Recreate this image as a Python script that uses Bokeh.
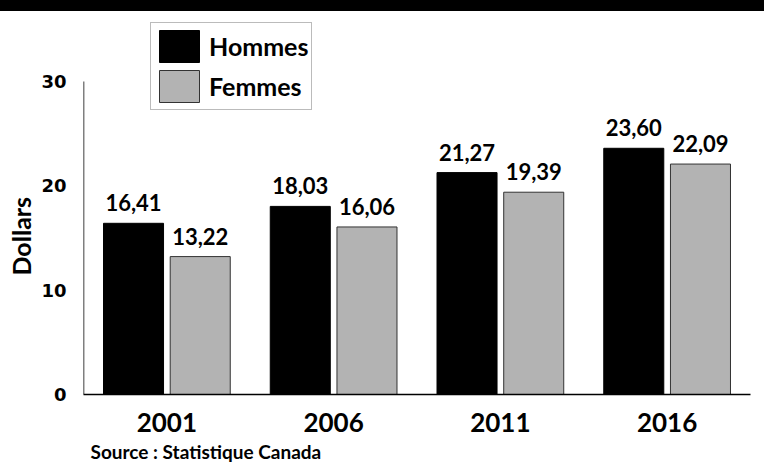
from bokeh.plotting import figure
from bokeh.layouts import column
from bokeh.models import (FactorRange, Range1d, Legend, LegendItem, Title, ColumnDataSource,
                          FixedTicker, Div)
from bokeh.transform import dodge
from bokeh.core.properties import value
from bokeh.embed import file_html
from bokeh.resources import INLINE

years = ["2001", "2006", "2011", "2016"]
hommes = [16.41, 18.03, 21.27, 23.60]
femmes = [13.22, 16.06, 19.39, 22.09]
series_names = ["Hommes", "Femmes"]
y_ticks = [0, 10, 20, 30]
y_label = "Dollars"
source_text = "Source : Statistique Canada"

fmt = lambda v: f"{v:.2f}".replace(".", ",")
src = ColumnDataSource(dict(
    years=years, hommes=hommes, femmes=femmes,
    h_lab=[fmt(v) for v in hommes], f_lab=[fmt(v) for v in femmes],
))

TXT = "Lato"

p = figure(width=764, height=461, x_range=FactorRange(*years, range_padding=0),
           y_range=Range1d(0, 35.85), output_backend="svg", toolbar_location=None,
           min_border_left=81, min_border_right=14, min_border_top=9, min_border_bottom=78,
           margin=0)
p.outline_line_color = None
p.grid.grid_line_color = None

rh = p.vbar(x=dodge("years", -0.2, range=p.x_range), top="hommes", width=0.36, source=src,
            fill_color="black", line_color="black", line_width=1)
rf = p.vbar(x=dodge("years", 0.2, range=p.x_range), top="femmes", width=0.36, source=src,
            fill_color="#b3b3b3", line_color="#333333", line_width=1)

for col, lab, off in (("hommes", "h_lab", -0.2), ("femmes", "f_lab", 0.2)):
    p.text(x=dodge("years", off, range=p.x_range), y=col, text=lab, source=src,
           text_align="center", text_baseline="bottom", y_offset=-12,
           text_font=value(TXT), text_font_style="bold", text_font_size="22px", text_color="black")

# y axis line from 0 to 30 only
ax_src = ColumnDataSource(dict(x=[years[0]], y0=[y_ticks[0]], y1=[y_ticks[-1]]))
p.segment(x0=dodge("x", -0.5, range=p.x_range), y0="y0",
          x1=dodge("x", -0.5, range=p.x_range), y1="y1", source=ax_src,
          line_color="black", line_width=1.5)

p.yaxis.ticker = FixedTicker(ticks=y_ticks)
p.yaxis.major_tick_line_color = None
p.yaxis.minor_tick_line_color = None
p.yaxis.major_label_standoff = 11
p.yaxis.major_label_text_font = "DejaVu Sans"
p.yaxis.major_label_text_font_style = "bold"
p.yaxis.major_label_text_font_size = "18px"
p.yaxis.major_label_text_color = "black"
p.yaxis.axis_line_color = None

p.xaxis.major_tick_line_color = None
p.xaxis.minor_tick_line_color = None
p.xaxis.major_label_standoff = 12
p.xaxis.major_label_text_font = TXT
p.xaxis.major_label_text_font_style = "bold"
p.xaxis.major_label_text_font_size = "26px"
p.xaxis.major_label_text_color = "black"
p.xaxis.axis_line_color = "black"
p.xaxis.axis_line_width = 1.5

p.add_layout(Title(text=y_label, align="left", offset=119, standoff=6, text_font=TXT,
                   text_font_style="bold", text_font_size="25px", text_color="black"), "left")
p.add_layout(Title(text=source_text, align="left", offset=7, standoff=6, text_font=TXT,
                   text_font_style="bold", text_font_size="19px", text_color="black"), "below")

legend = Legend(items=[LegendItem(label=series_names[0], renderers=[rh]),
                       LegendItem(label=series_names[1], renderers=[rf])],
                location=(67, 284), glyph_width=50, glyph_height=40, padding=3, spacing=0,
                label_standoff=5, label_text_font=TXT, label_text_font_style="bold",
                label_text_font_size="25px", label_text_color="black",
                border_line_color="#777777", border_line_width=1.5, background_fill_alpha=1,
                margin=0)
p.add_layout(legend, "center")

band = Div(text="", width=764, height=11, margin=0, styles={"background-color": "black"})

layout = column(band, p, spacing=0)
open("out.html", "w").write(file_html(layout, INLINE))
